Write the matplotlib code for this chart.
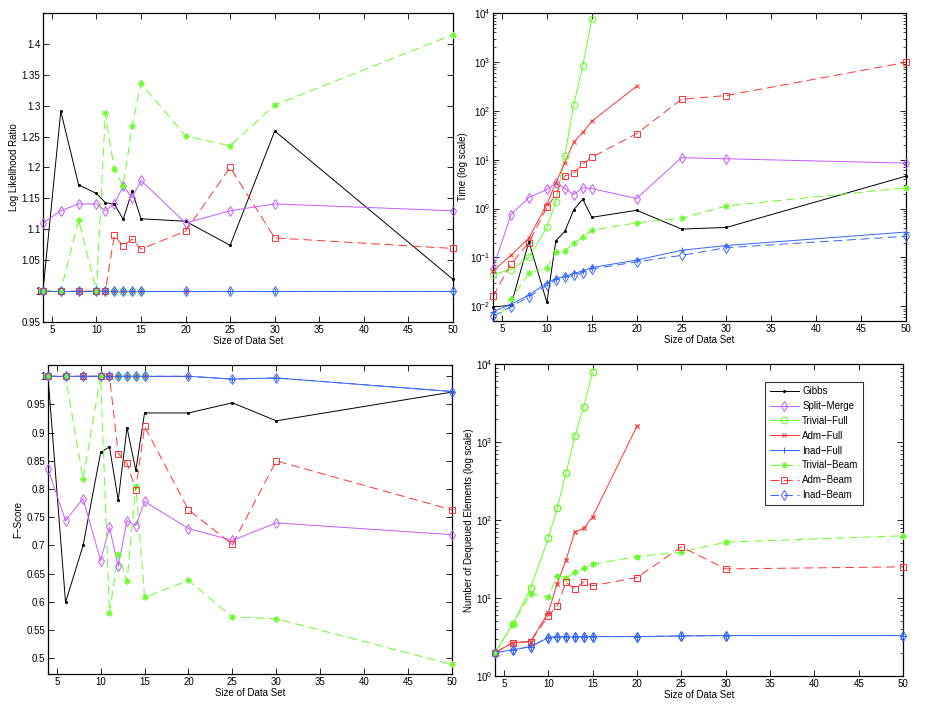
"""
Search method comparison: likelihood ratio, time, F-score, dequeued elements
"""

import matplotlib
matplotlib.use('Agg')
import matplotlib.pyplot as plt
import numpy as np
from matplotlib import rc

font = {'family': 'Liberation Sans',
        'size': 7}
rc('font', **font)

sizes = [4, 6, 8, 10, 11, 12, 13, 14, 15, 20, 25, 30, 50]
sizes_trivial_full = sizes[:9]
sizes_adm_full = sizes[:10]

names = ['Gibbs', 'Split-Merge', 'Trivial-Full', 'Adm-Full', 'Inad-Full',
         'Trivial-Beam', 'Adm-Beam', 'Inad-Beam']

# log likelihood ratio
llr_gibbs = [1.0, 1.291, 1.172, 1.158, 1.143, 1.141, 1.116, 1.162, 1.117, 1.113, 1.074, 1.259, 1.019]
llr_split = [1.110, 1.130, 1.141, 1.141, 1.130, 1.141, 1.170, 1.151, 1.179, 1.110, 1.130, 1.141, 1.130]
llr_triv_full = [1.0] * 9
llr_adm_full = [1.0] * 10
llr_inad_full = [1.0] * 13
llr_triv_beam = [1.0, 1.0, 1.115, 1.0, 1.288, 1.197, 1.170, 1.267, 1.336, 1.251, 1.235, 1.301, 1.415]
llr_adm_beam = [1.0, 1.0, 1.0, 1.0, 1.0, 1.090, 1.073, 1.084, 1.068, 1.097, 1.200, 1.086, 1.069]
llr_inad_beam = [1.0] * 13

# time (log scale)
t_gibbs = [0.0097, 0.0105, 0.21, 0.012, 0.22, 0.34, 0.95, 1.55, 0.66, 0.92, 0.38, 0.41, 4.6]
t_split = [0.059, 0.75, 1.68, 2.45, 3.3, 2.56, 1.93, 2.65, 2.56, 1.6, 11.0, 10.4, 8.5]
t_triv_full = [0.045, 0.056, 0.10, 0.41, 1.37, 12.1, 134, 840, 7600]
t_adm_full = [0.053, 0.11, 0.25, 1.23, 3.35, 8.7, 23, 36, 61, 317]
t_inad_full = [0.0077, 0.011, 0.017, 0.030, 0.037, 0.041, 0.047, 0.053, 0.062, 0.088, 0.14, 0.175, 0.33]
t_triv_beam = [0.004, 0.014, 0.047, 0.061, 0.126, 0.136, 0.195, 0.26, 0.36, 0.51, 0.63, 1.13, 2.65]
t_adm_beam = [0.016, 0.074, 0.20, 1.05, 1.96, 4.66, 5.4, 8.1, 11.2, 34, 172, 205, 980]
t_inad_beam = [0.0062, 0.0098, 0.0156, 0.027, 0.035, 0.039, 0.043, 0.049, 0.058, 0.081, 0.11, 0.158, 0.27]

# F-score
f_gibbs = [1.0, 0.599, 0.700, 0.865, 0.875, 0.780, 0.909, 0.833, 0.935, 0.935, 0.953, 0.921, 0.972]
f_split = [0.836, 0.744, 0.783, 0.673, 0.732, 0.663, 0.744, 0.735, 0.778, 0.730, 0.709, 0.740, 0.719]
f_triv_full = [1.0] * 9
f_adm_full = [1.0] * 10
f_inad_full = [1.0, 1.0, 1.0, 1.0, 1.0, 1.0, 1.0, 1.0, 1.0, 1.0, 0.995, 0.997, 0.973]
f_triv_beam = [1.0, 1.0, 0.818, 1.0, 0.580, 0.684, 0.637, 0.806, 0.608, 0.638, 0.573, 0.570, 0.489]
f_adm_beam = [1.0, 1.0, 1.0, 1.0, 1.0, 0.863, 0.846, 0.799, 0.911, 0.763, 0.702, 0.850, 0.763]
f_inad_beam = [1.0, 1.0, 1.0, 1.0, 1.0, 1.0, 1.0, 1.0, 1.0, 1.0, 0.995, 0.997, 0.973]

# number of dequeued elements (no values for Gibbs / Split-Merge)
d_triv_full = [2.0, 4.6, 13.3, 58, 141, 396, 1205, 2840, 7980]
d_adm_full = [2.0, 2.68, 2.76, 6.5, 15.2, 30.8, 70.5, 77.9, 110, 1590]
d_inad_full = [2.0, 2.16, 2.38, 3.1, 3.2, 3.17, 3.17, 3.2, 3.2, 3.2, 3.26, 3.3, 3.3]
d_triv_beam = [2.0, 4.6, 11.4, 10.2, 19.4, 18.1, 21.4, 24.1, 27.1, 34, 38.7, 52, 62.7]
d_adm_beam = [2.0, 2.68, 2.76, 5.9, 7.9, 15.9, 13.0, 16.1, 14.4, 18.3, 45.3, 23.6, 25.1]
d_inad_beam = [2.0, 2.16, 2.38, 3.1, 3.2, 3.17, 3.17, 3.2, 3.2, 3.2, 3.26, 3.3, 3.3]

violet = (0.78, 0.35, 1.0)
green = (0.4, 1.0, 0.15)
red = (1.0, 0.2, 0.2)
blue = (0.2, 0.4, 1.0)

styles = {
    'Gibbs': dict(color='black', marker='.', ms=3),
    'Split-Merge': dict(color=violet, marker='d', ms=5.5, mfc='none'),
    'Trivial-Full': dict(color=green, marker='o', ms=4.8, mfc='none'),
    'Adm-Full': dict(color=red, marker='x', ms=3.5),
    'Inad-Full': dict(color=blue, marker='+', ms=5),
    'Trivial-Beam': dict(color=green, marker=(8, 2, 0), ms=4.5),
    'Adm-Beam': dict(color=red, marker='s', ms=4, mfc='none'),
    'Inad-Beam': dict(color=blue, marker='d', ms=5.5, mfc='none'),
}
dashed = ('Trivial-Beam', 'Adm-Beam', 'Inad-Beam')


def draw(ax, series, ylim, logy=False):
    if logy:
        ax.set_yscale('log')
    for name, (xs, ys) in zip(names, series):
        st = styles[name]
        ls = '--' if name in dashed else '-'
        line, = ax.plot(xs, ys, lw=0.7, ls=ls, mew=0.7, label=name, **st)
        if name in dashed:
            line.set_dashes((9, 5))
        line.set_marker('None')
        # markers are not clipped at the box, like the original
        xs_in = [x for x, y in zip(xs, ys) if ylim[0] <= y <= ylim[1]]
        ys_in = [y for y in ys if ylim[0] <= y <= ylim[1]]
        ax.plot(xs_in, ys_in, ls='None', mew=0.7, clip_on=False, zorder=3, **st)
        # proxy for the legend
        line.set_marker(st['marker'])
        line.set_markevery([])
    ax.set_ylim(*ylim)
    ax.set_xlim(4, 50)
    ax.set_xticks(range(5, 55, 5))
    ax.tick_params(direction='in', top=True, right=True, length=4, width=0.6, pad=2)
    ax.tick_params(which='minor', direction='in', top=True, right=True, length=2, width=0.5)
    for s in ax.spines.values():
        s.set_linewidth(0.9)
    ax.set_xlabel('Size of Data Set', labelpad=1)


fig = plt.figure(figsize=(9.26, 7.1), dpi=100)
ax1 = fig.add_axes([0.0464, 0.5465, 0.4428, 0.4352])
ax2 = fig.add_axes([0.5324, 0.5479, 0.446, 0.4338])
ax3 = fig.add_axes([0.0518, 0.0507, 0.4363, 0.4352])
ax4 = fig.add_axes([0.5346, 0.0479, 0.4406, 0.4394])

draw(ax1, [(sizes, llr_gibbs), (sizes, llr_split), (sizes_trivial_full, llr_triv_full),
           (sizes_adm_full, llr_adm_full), (sizes, llr_inad_full), (sizes, llr_triv_beam),
           (sizes, llr_adm_beam), (sizes, llr_inad_beam)], (0.95, 1.45))
ax1.set_yticks(np.arange(0.95, 1.41, 0.05))
ax1.set_yticklabels(['0.95', '1', '1.05', '1.1', '1.15', '1.2', '1.25', '1.3', '1.35', '1.4'])
ax1.set_ylabel('Log Likelihood Ratio', labelpad=2)

draw(ax2, [(sizes, t_gibbs), (sizes, t_split), (sizes_trivial_full, t_triv_full),
           (sizes_adm_full, t_adm_full), (sizes, t_inad_full), (sizes, t_triv_beam),
           (sizes, t_adm_beam), (sizes, t_inad_beam)], (0.005, 1e4), logy=True)
ax2.set_ylabel('Time (log scale)', labelpad=1)

draw(ax3, [(sizes, f_gibbs), (sizes, f_split), (sizes_trivial_full, f_triv_full),
           (sizes_adm_full, f_adm_full), (sizes, f_inad_full), (sizes, f_triv_beam),
           (sizes, f_adm_beam), (sizes, f_inad_beam)], (0.472, 1.02))
ax3.set_yticks(np.arange(0.5, 1.01, 0.05))
ax3.set_yticklabels(['0.5', '0.55', '0.6', '0.65', '0.7', '0.75', '0.8', '0.85', '0.9', '0.95', '1'])
ax3.set_ylabel('F\u2212Score', labelpad=2)

draw(ax4, [([], []), ([], []), (sizes_trivial_full, d_triv_full),
           (sizes_adm_full, d_adm_full), (sizes, d_inad_full), (sizes, d_triv_beam),
           (sizes, d_adm_beam), (sizes, d_inad_beam)], (1, 1e4), logy=True)
ax4.set_ylabel('Number of Dequeued Elements (log scale)', labelpad=1)

handles, labels = ax4.get_legend_handles_labels()
for h in handles:
    h.set_markevery(None)
leg = ax4.legend(handles, [l.replace('-', '\u2212') for l in labels],
                 loc='upper left', bbox_to_anchor=(0.662, 0.943), fontsize=7,
                 frameon=True, fancybox=False, handlelength=3.0, borderpad=0.45,
                 labelspacing=0.5, handletextpad=0.35, borderaxespad=0)
leg.get_frame().set_edgecolor('black')
leg.get_frame().set_linewidth(0.8)

fig.savefig('out.png', dpi=100)
plt.close(fig)
